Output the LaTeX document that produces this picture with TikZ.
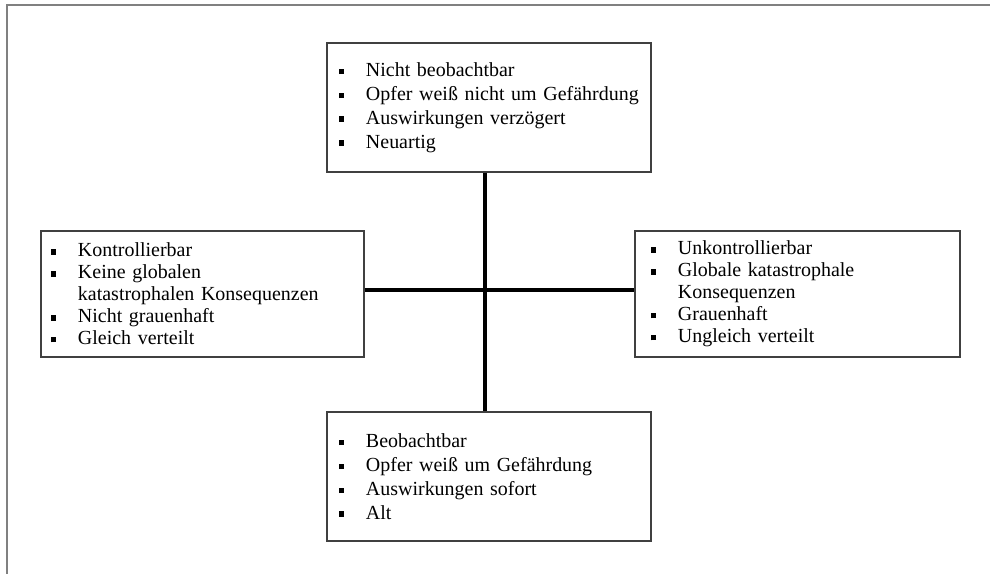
\documentclass[tikz,border=0pt]{standalone}
\usepackage{fontspec}
\setmainfont{Liberation Serif}

\newcommand{\blt}{\rule[1.6pt]{3.9pt}{3.9pt}}
\newcommand{\itm}[1]{\makebox[0.675cm][l]{\blt}#1}
\newcommand{\cnt}[1]{\hspace*{0.675cm}#1}

\begin{document}
\begin{tikzpicture}[x=0.025cm, y=-0.025cm,
  box/.style={draw=black!75, line width=0.9pt, inner ysep=0pt, align=left},
  vbox/.style={box, font=\fontsize{14.2}{17}\selectfont, minimum height=3.225cm},
  hbox/.style={box, font=\fontsize{14.2}{15.6}\selectfont, minimum height=3.15cm},
  axis/.style={line width=3.2pt}]
 \useasboundingbox (0,0) rectangle (990,574);

 % frame
 \draw[gray, line width=1.4pt] (990,5) -- (7,5) -- (7,574);

 \node[vbox, inner xsep=0.3cm, text width=7.5cm] (top) at (489,107.5)
  {\itm{Nicht beobachtbar}\\
   \itm{Opfer weiß nicht um Gefährdung}\\
   \itm{Auswirkungen verzögert}\\
   \itm{Neuartig}\\[4pt]};

 \node[vbox, inner xsep=0.3cm, text width=7.5cm] (bottom) at (489,476.5)
  {\itm{Beobachtbar}\\
   \itm{Opfer weiß um Gefährdung}\\
   \itm{Auswirkungen sofort}\\
   \itm{Alt}};

 \node[hbox, inner xsep=0.25cm, text width=7.575cm] (left) at (202.5,294)
  {\itm{Kontrollierbar}\\
   \itm{Keine globalen}\\
   \cnt{katastrophalen Konsequenzen}\\
   \itm{Nicht grauenhaft}\\
   \itm{Gleich verteilt}};

 \node[hbox, inner xsep=0.4cm, text width=7.325cm] (right) at (797.5,294)
  {\itm{Unkontrollierbar}\\
   \itm{Globale katastrophale}\\
   \cnt{Konsequenzen}\\
   \itm{Grauenhaft}\\
   \itm{Ungleich verteilt}};

 \coordinate (cross) at (485,290);
 \draw[axis] (top.south -| cross) -- (bottom.north -| cross);
 \draw[axis] (left.east |- cross) -- (right.west |- cross);
\end{tikzpicture}
\end{document}
